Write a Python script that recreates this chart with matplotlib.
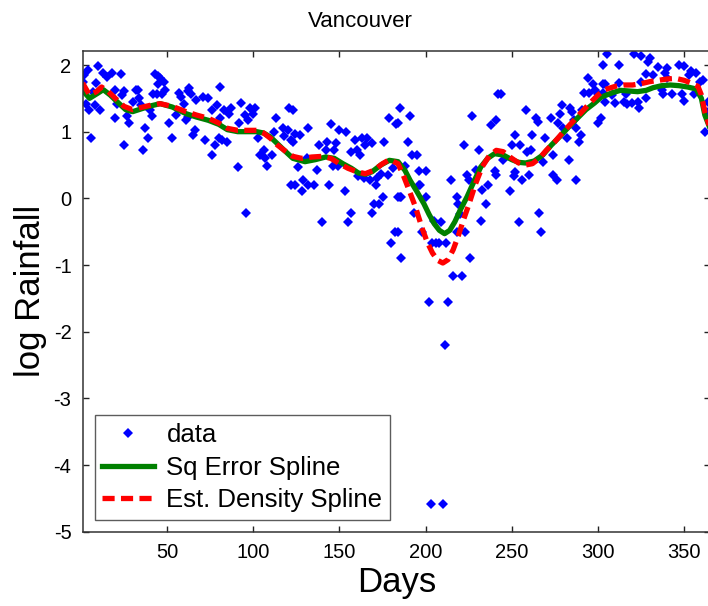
import matplotlib
matplotlib.use("Agg")
import matplotlib.pyplot as plt

plt.rcParams['font.family'] = ['Liberation Sans', 'DejaVu Sans']

# ---- data points (day, log rainfall) ----
data_days = [1, 2, 3, 4, 5, 6, 7, 8, 9, 10, 11, 13, 15, 18, 20, 20, 21, 23, 24, 25, 25, 27, 28,
             30, 32, 33, 34, 35, 36, 37, 39, 40, 41, 42, 43, 44, 45, 45, 46, 47, 48, 49, 51, 53,
             55, 57, 58, 60, 61, 62,
             62, 63, 64, 65, 66, 67, 71, 72, 74, 76, 76, 78, 79, 80, 81, 81, 82, 83, 85, 86, 87,
             91, 92, 93, 95, 96, 97, 98, 100, 101, 103, 104, 106, 107, 108, 111, 112, 113, 117,
             118, 120, 121, 122, 122,
             123, 123, 124, 124, 126, 127, 128, 129, 131, 132, 132, 135, 137, 138, 140, 142, 143,
             144, 145, 146, 147, 148, 149, 150, 153, 154, 155, 157, 157, 159, 160, 161, 162, 163,
             164, 165, 166, 168, 169, 169, 170, 171, 172, 173, 174, 175, 176, 178, 179, 180, 181,
             182, 183, 184,
             184, 184, 185, 185, 186, 186, 188, 190, 191, 192, 193, 195, 196, 196, 197, 198, 200,
             200, 202, 203, 204, 205, 206, 208, 209, 210, 211, 212, 213, 215, 216, 218, 218, 219,
             220, 221, 222, 223, 224, 225, 226, 227, 229, 231, 232, 233, 235, 236, 238, 240, 241,
             241, 242,
             244, 245, 249, 250, 251, 252, 252, 254, 255, 256, 258, 259, 260, 261, 262, 264, 265,
             266, 267, 268, 269, 273, 274, 274, 276, 277, 278, 279, 280, 282, 283, 284, 285, 286,
             287, 287, 289, 290, 291, 292, 294, 295, 297, 298, 300, 300, 302, 303, 303,
             303, 304, 304, 305, 308, 310, 312, 312, 315, 316, 317, 320, 321, 323, 324, 325, 325,
             328, 328, 329, 330, 332, 335, 337, 338, 339, 340, 340, 343, 347, 349, 350, 350, 353,
             354, 356, 357, 359, 361, 362, 363, 364]
data_vals = [1.75, 1.85, 1.42, 1.92, 1.33, 0.91, 1.60, 1.40, 1.73, 1.98, 1.33, 1.88, 1.82, 1.88,
             1.62, 1.20, 1.42, 1.86, 1.55, 1.61, 0.80, 1.23, 1.13,
             1.45, 1.62, 1.62, 1.50, 1.40, 0.73, 1.06, 0.91, 1.33, 1.23, 1.56, 1.86, 1.57, 1.83,
             1.71, 1.81, 1.57, 1.75, 1.62, 1.13, 0.91, 1.25, 1.58, 1.52, 1.42, 1.17, 1.61,
             1.22, 1.66, 1.57, 0.95, 1.02, 1.47, 1.52, 0.88, 1.51, 1.33, 0.65, 0.80, 1.40, 0.90,
             1.67, 1.20, 0.88, 1.33, 0.85, 1.27, 1.35,
             0.47, 1.13, 1.43, 1.25, -0.22, 1.17, 1.36, 1.26, 1.36, 0.90, 0.65, 0.73, 0.60, 0.48,
             0.65, 1.00, 1.20, 1.05, 0.93, 1.02, 1.35, 0.87, 0.20,
             1.33, 0.85, 0.97, 0.20, 0.47, 0.95, 0.11, 0.28, 0.61, 1.06, 0.20, 0.20, 0.42, 0.80,
             -0.35, 0.72, 0.85, 0.20, 1.11, 0.48, 0.73, 0.83, 0.48, 1.03, 0.11, 1.00, -0.35,
             0.70, -0.22, 0.88, 0.72, 0.33, 0.65, 0.90, 0.30, 0.80, 0.91, 0.28, 0.83, -0.22,
             -0.09, 0.20, 0.30, -0.09, 0.36, 0.02, 0.85, 0.35, 1.20, -0.67, 0.46, -0.50, 1.12,
             0.02,
             1.13, -0.50, 1.36, 0.02, 0.02, -0.89, 0.48, 0.85, 1.23, 0.65, -0.22, 0.65, 0.41,
             0.20, 0.20, -0.50, 0.41, 0.02, -1.55, -4.58, -0.67, -0.34, -0.67, -0.67, -0.35,
             -4.58, -2.20, -0.67, -1.55, 0.28, -1.17, 0.02, -0.50, -0.09, -0.23, -1.17, 0.80,
             -0.50, 0.35, 0.28, -0.89, 1.23, 0.42, 0.73, -0.34, 0.12, -0.09, 0.20, 1.10, 0.41,
             1.17, 0.35, 1.56,
             1.57, 0.58, 0.11, 0.80, 0.33, 0.95, 0.40, -0.35, 0.80, 0.28, 1.33, 0.70, 0.35, 0.73,
             0.95, 1.20, 1.15, -0.22, -0.50, 0.55, 0.91, 1.20, 0.65, 0.35, 0.28, 1.13, 1.26,
             1.40, 1.06, 0.91, 0.58, 1.35, 1.30, 1.18, 1.05, 0.28, 0.85, 0.95, 1.33, 1.58, 1.80,
             1.58, 1.71, 1.62, 1.57, 1.13, 1.20, 1.71, 2.00,
             1.58, 1.72, 1.45, 2.16, 1.55, 1.43, 2.00, 1.73, 1.45, 1.57, 1.42, 1.43, 2.16, 1.45,
             1.36, 2.13, 1.75, 1.86, 1.51, 2.05, 2.10, 1.85, 1.97, 1.63, 1.57, 1.88, 1.95, 1.81,
             1.56, 2.00, 1.56, 1.98, 1.46, 1.85, 1.91, 1.57, 1.88, 1.75, 1.77, 1.00, 1.30, 1.45]

# ---- Sq Error Spline ----
sq_days = [1, 5, 10, 13, 17, 21, 26, 30, 36, 41, 46, 53, 61, 67, 74, 80, 85, 91, 97, 102, 106,
           110, 114, 118, 123, 130, 136, 142, 147, 152, 157, 161, 165, 169, 174, 179, 184, 188,
           191, 195, 199, 202, 205, 208, 211, 214, 217, 220, 224, 228, 232, 236, 240, 245, 250,
           254, 258, 263, 268, 273, 278, 283, 288, 293, 298, 302, 308, 313, 318, 323, 328, 332,
           337, 342, 347, 352, 357, 360, 362, 365]
sq_vals = [1.62, 1.50, 1.58, 1.63, 1.55, 1.45, 1.33, 1.30, 1.35, 1.39, 1.42, 1.37, 1.27, 1.22,
           1.17, 1.11, 1.03, 1.00, 1.00, 1.00, 0.98, 0.92, 0.82, 0.72, 0.60, 0.55, 0.58, 0.62,
           0.60, 0.52, 0.45, 0.38, 0.36, 0.40, 0.50, 0.57, 0.55, 0.42, 0.27, 0.10, -0.08, -0.24,
           -0.38, -0.48, -0.53, -0.48, -0.35, -0.18, 0.02, 0.25, 0.47, 0.60, 0.67, 0.65, 0.58,
           0.54, 0.53, 0.56, 0.65, 0.80, 0.93, 1.07, 1.20, 1.33, 1.43, 1.52, 1.58, 1.62, 1.61,
           1.60, 1.62, 1.66, 1.69, 1.70, 1.69, 1.67, 1.64, 1.50, 1.25, 1.05]

# ---- Est. Density Spline ----
ed_days = [1, 5, 9, 12, 16, 20, 25, 30, 36, 41, 46, 53, 61, 67, 74, 80, 85, 91, 97, 102, 106,
           110, 114, 118, 123, 128, 134, 140, 145, 150, 155, 160, 165, 170, 175, 179, 184, 187,
           190, 194, 198, 201, 204, 207, 210, 213, 216, 219, 222, 225, 229, 233, 237, 241, 245,
           250, 254, 258, 262, 266, 270, 275, 280, 285, 290, 295, 300, 304, 310, 315, 320, 325,
           330, 335, 340, 345, 350, 355, 358, 360, 362, 365]
ed_vals = [1.73, 1.55, 1.60, 1.67, 1.60, 1.50, 1.38, 1.33, 1.37, 1.40, 1.42, 1.38, 1.30, 1.25,
           1.20, 1.13, 1.05, 1.02, 1.02, 1.02, 0.98, 0.90, 0.80, 0.72, 0.63, 0.60, 0.62, 0.63,
           0.60, 0.52, 0.45, 0.40, 0.37, 0.42, 0.52, 0.58, 0.52, 0.35, 0.15, -0.12, -0.45,
           -0.66, -0.82, -0.93, -0.97, -0.92, -0.77, -0.56, -0.32, -0.10, 0.22, 0.48, 0.64,
           0.72, 0.70, 0.60, 0.53, 0.50, 0.52, 0.60, 0.72, 0.85, 1.00, 1.14, 1.28, 1.42, 1.55,
           1.63, 1.68, 1.70, 1.70, 1.72, 1.75, 1.77, 1.79, 1.80, 1.77, 1.72, 1.68, 1.55, 1.30,
           1.05]

x_ticks = [50, 100, 150, 200, 250, 300, 350]
y_ticks = [-5, -4, -3, -2, -1, 0, 1, 2]

W, H = 708, 606
fig = plt.figure(figsize=(W / 100, H / 100), dpi=100)
ax_left, ax_right, ax_top, ax_bottom = 82.6, 710.0, 51.0, 531.7
ax = fig.add_axes([ax_left / W, (H - ax_bottom) / H, (ax_right - ax_left) / W,
                   (ax_bottom - ax_top) / H])

ax.plot(data_days, data_vals, linestyle='none', marker='D', markersize=4.8,
        color='#0000ff', markeredgewidth=0, label='data')
ax.plot(sq_days, sq_vals, color='#008000', linewidth=3.8, label='Sq Error Spline')
ax.plot(ed_days, ed_vals, color='#ff0000', linewidth=3.8, linestyle=(0, (2.3, 1.2)),
        label='Est. Density Spline')

ax.set_xlim(1, 365)
ax.set_ylim(-5, 2.21)
ax.set_xticks(x_ticks)
ax.set_yticks(y_ticks)
ax.set_yticklabels([str(v) for v in y_ticks])
ax.tick_params(direction='in', length=4.5, width=1, top=True, right=True,
               labelsize=14.5, pad=8, colors='#222222', labelcolor='black')
for s in ax.spines.values():
    s.set_linewidth(1.1)
    s.set_color('#333333')

ax.set_title('Vancouver', fontsize=16, pad=17, x=(360 - ax_left) / (ax_right - ax_left))
ax.set_xlabel('Days', fontsize=25, labelpad=3)
ax.set_ylabel('log Rainfall', fontsize=25, labelpad=5)

leg = ax.legend(loc='lower left', bbox_to_anchor=(0.019, 0.024), borderaxespad=0,
                fontsize=18.5, frameon=True, fancybox=False, edgecolor='#333333',
                handlelength=2.0, handletextpad=0.5, numpoints=1, labelspacing=0.34,
                borderpad=0.3)
leg.get_frame().set_linewidth(1.0)

fig.savefig('out.png', dpi=100)
